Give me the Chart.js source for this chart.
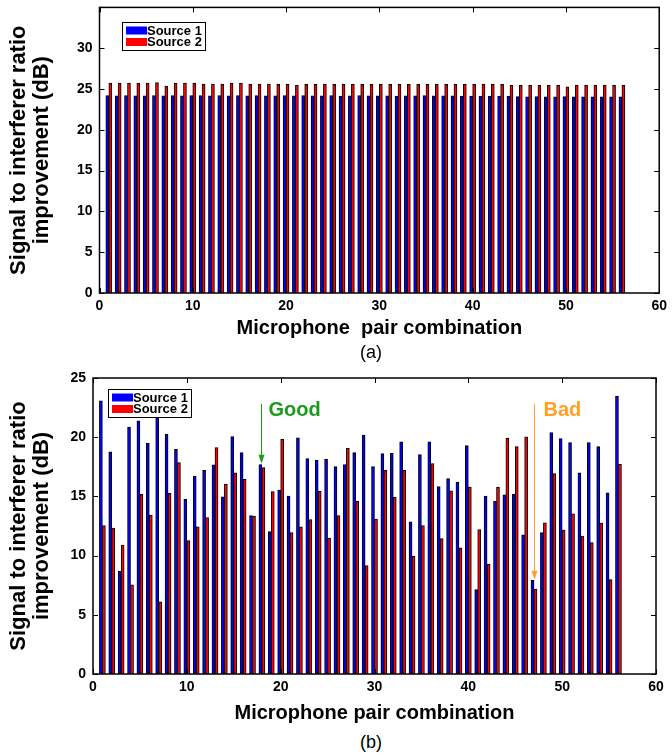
<!DOCTYPE html>
<html>
<head>
<meta charset="utf-8">
<script src="https://cdn.jsdelivr.net/npm/chart.js@4.4.1/dist/chart.umd.min.js"></script>
<style>
  body { margin: 0; background: #fff; }
  #wrap { position: relative; width: 672px; height: 756px; overflow: hidden; }
  canvas { position: absolute; left: 0; }
  .cap { position: absolute; left: 331px; width: 80px; text-align: center;
         font: 18px "Liberation Sans", Arial, sans-serif; line-height: 20px; color: #000; }
</style>
</head>
<body>
<div id="wrap">
  <canvas id="chartA" width="672" height="353" style="top:-8px"></canvas>
  <div class="cap" style="top:342px">(a)</div>
  <canvas id="chartB" width="672" height="370" style="top:360px"></canvas>
  <div class="cap" style="top:732px">(b)</div>
</div>
<script>
const pairIndex = [1, 2, 3, 4, 5, 6, 7, 8, 9, 10, 11, 12, 13, 14, 15, 16, 17, 18, 19, 20,
  21, 22, 23, 24, 25, 26, 27, 28, 29, 30, 31, 32, 33, 34, 35, 36, 37, 38, 39, 40,
  41, 42, 43, 44, 45, 46, 47, 48, 49, 50, 51, 52, 53, 54, 55, 56];

// panel (a)
const topSource1 = [24.18, 24.16, 24.18, 24.17, 24.15, 24.18, 24.16, 24.18, 24.17, 24.18,
  24.18, 24.17, 24.18, 24.16, 24.18, 24.17, 24.18, 24.16, 24.15, 24.18,
  24.16, 24.18, 24.15, 24.17, 24.18, 24.14, 24.17, 24.18, 24.15, 24.16,
  24.17, 24.14, 24.16, 24.15, 24.18, 24.16, 24.15, 24.17, 24.14, 24.14,
  24.13, 24.14, 24.12, 24.13, 24.06, 24.05, 24.06, 24.05, 24.04, 24.06,
  24.05, 24.04, 24.05, 24.03, 24.05, 24.04];
const topSource2 = [25.74, 25.74, 25.74, 25.74, 25.74, 25.8, 25.37, 25.74, 25.74, 25.74,
  25.61, 25.61, 25.61, 25.74, 25.74, 25.61, 25.61, 25.61, 25.57, 25.57,
  25.45, 25.57, 25.57, 25.57, 25.57, 25.57, 25.57, 25.57, 25.57, 25.57,
  25.57, 25.57, 25.57, 25.57, 25.57, 25.57, 25.57, 25.57, 25.57, 25.57,
  25.61, 25.57, 25.57, 25.45, 25.45, 25.45, 25.45, 25.45, 25.45, 25.28,
  25.45, 25.45, 25.45, 25.45, 25.45, 25.45];

// panel (b)
const bottomSource1 = [23.08, 18.76, 8.67, 20.85, 21.38, 19.49, 21.64, 20.25, 18.98, 14.75,
  16.72, 17.2, 17.66, 14.97, 20.06, 18.7, 13.39, 17.68, 12.03, 15.54,
  15.03, 19.94, 18.19, 18.05, 18.14, 17.51, 17.68, 18.7, 20.17, 17.51,
  18.62, 18.64, 19.6, 12.85, 18.53, 19.6, 15.82, 16.5, 16.21, 19.29,
  7.12, 15.03, 14.58, 15.14, 15.2, 11.75, 7.91, 11.95, 20.4, 19.89,
  19.55, 17.0, 19.55, 19.21, 15.31, 23.45];
const bottomSource2 = [12.54, 12.32, 10.88, 7.54, 15.17, 13.42, 6.1, 15.25, 17.85, 11.27,
  12.43, 13.22, 19.12, 16.05, 17.0, 16.44, 13.33, 17.43, 15.4, 19.83,
  11.95, 12.43, 13.05, 15.42, 11.47, 13.39, 19.07, 14.58, 9.15, 13.08,
  17.2, 14.92, 17.2, 9.94, 12.54, 17.77, 11.44, 15.48, 10.65, 15.79,
  12.2, 9.29, 15.79, 19.92, 19.21, 20.03, 7.18, 12.77, 16.92, 12.15,
  13.53, 11.64, 11.1, 12.74, 7.97, 17.71];

const seriesNames = ['Source 1', 'Source 2'];
const seriesColors = ['#0000ff', '#ff0000'];
const yTitle = ['Signal to interferer ratio', 'improvement (dB)'];

const FONT = '"Liberation Sans", Arial, sans-serif';

const framePlugin = {
  id: 'frame',
  afterDraw(chart) {
    const { ctx, chartArea: a, scales } = chart;
    ctx.save();
    ctx.strokeStyle = '#000';
    ctx.lineWidth = 1;
    const tl = 5;
    ctx.beginPath();
    scales.x.ticks.forEach(t => {
      const px = Math.round(scales.x.getPixelForValue(t.value)) + 0.5;
      ctx.moveTo(px, a.top); ctx.lineTo(px, a.top + tl);
      ctx.moveTo(px, a.bottom); ctx.lineTo(px, a.bottom - tl);
    });
    scales.y.ticks.forEach(t => {
      const py = Math.round(scales.y.getPixelForValue(t.value)) + 0.5;
      ctx.moveTo(a.left, py); ctx.lineTo(a.left + tl, py);
      ctx.moveTo(a.right, py); ctx.lineTo(a.right - tl, py);
    });
    ctx.stroke();
    ctx.lineWidth = 1.5;
    ctx.strokeRect(a.left, a.top, a.right - a.left, a.bottom - a.top);
    ctx.restore();
  }
};

const boxLegend = {
  id: 'boxLegend',
  afterDraw(chart, args, opts) {
    const { ctx, chartArea: a } = chart;
    const x = Math.round(a.left + opts.dx), y = Math.round(a.top + opts.dy);
    ctx.save();
    ctx.fillStyle = '#fff';
    ctx.fillRect(x, y, 83, 28);
    ctx.strokeStyle = '#000';
    ctx.lineWidth = 1;
    ctx.strokeRect(x + 0.5, y + 0.5, 83, 28);
    ctx.font = 'bold 13px ' + FONT;
    ctx.textBaseline = 'middle';
    seriesNames.forEach((name, i) => {
      ctx.fillStyle = seriesColors[i];
      ctx.fillRect(x + 4, y + 4.5 + i * 11.5, 21, 8);
      ctx.fillStyle = '#000';
      ctx.fillText(name, x + 25, y + 9 + i * 11.5);
    });
    ctx.restore();
  }
};

const arrowNotes = {
  id: 'arrowNotes',
  afterDraw(chart, args, opts) {
    if (!opts.items) return;
    const { ctx, scales } = chart;
    ctx.save();
    opts.items.forEach(n => {
      const px = Math.round(scales.x.getPixelForValue(n.x)) + 0.5;
      const y0 = scales.y.getPixelForValue(n.from);
      const y1 = scales.y.getPixelForValue(n.to);
      ctx.strokeStyle = n.color;
      ctx.fillStyle = n.color;
      ctx.lineWidth = 1;
      ctx.beginPath();
      ctx.moveTo(px, y0); ctx.lineTo(px, y1 - 8);
      ctx.stroke();
      ctx.beginPath();
      ctx.moveTo(px - 3, y1 - 9); ctx.lineTo(px + 3, y1 - 9); ctx.lineTo(px, y1);
      ctx.closePath();
      ctx.fill();
      ctx.font = 'bold 20px ' + FONT;
      ctx.textBaseline = 'alphabetic';
      ctx.fillText(n.text, px + n.tx, y0 + 12);
    });
    ctx.restore();
  }
};

function makeChart(id, s1, s2, cfg) {
  const tickFont = { family: FONT, size: 14, weight: 'bold' };
  return new Chart(document.getElementById(id), {
    type: 'bar',
    data: {
      datasets: [
        { label: seriesNames[0], data: pairIndex.map((p, i) => ({ x: p, y: s1[i] })),
          backgroundColor: seriesColors[0], borderColor: '#000', borderWidth: 1, barThickness: 3 },
        { label: seriesNames[1], data: pairIndex.map((p, i) => ({ x: p, y: s2[i] })),
          backgroundColor: seriesColors[1], borderColor: '#000', borderWidth: 1, barThickness: 3 }
      ]
    },
    options: {
      responsive: false,
      animation: false,
      layout: { padding: { top: cfg.padTop, right: cfg.padRight, left: 0, bottom: 0 } },
      plugins: {
        legend: { display: false },
        tooltip: { enabled: false },
        boxLegend: cfg.legend,
        arrowNotes: { items: cfg.notes }
      },
      scales: {
        x: {
          type: 'linear', min: 0, max: 60, offset: false,
          grid: { display: false, drawTicks: false, offset: false },
          border: { display: false },
          ticks: { stepSize: 10, color: '#000', font: tickFont, padding: 5, maxRotation: 0 },
          title: { display: true, text: cfg.xTitle, color: '#000',
                   font: { family: FONT, size: 20, weight: 'bold' }, padding: { top: 0, bottom: 5 } },
          afterFit: s => { s.height = cfg.xHeight; }
        },
        y: {
          min: 0, max: cfg.yMax,
          grid: { display: false, drawTicks: false },
          border: { display: false },
          ticks: { stepSize: 5, color: '#000', font: tickFont, padding: 7,
                   callback: v => (v > cfg.yLabelMax ? '' : v) },
          title: { display: true, text: yTitle, color: '#000',
                   font: { family: FONT, size: 22, weight: 'bold', lineHeight: 1.05 }, padding: { top: 7, bottom: 0 } },
          afterFit: s => { s.width = cfg.yWidth; }
        }
      }
    },
    plugins: [framePlugin, boxLegend, arrowNotes]
  });
}

makeChart('chartA', topSource1, topSource2, {
  padTop: 0, padRight: 12, xHeight: 52, yWidth: 99.5, yMax: 35, yLabelMax: 30,
  xTitle: 'Microphone  pair combination',
  legend: { dx: 22.5, dy: 15 }
});

makeChart('chartB', bottomSource1, bottomSource2, {
  padTop: 18, padRight: 16, xHeight: 56, yWidth: 93, yMax: 25, yLabelMax: 25,
  xTitle: 'Microphone pair combination',
  legend: { dx: 14.5, dy: 10.5 },
  notes: [
    { x: 17.93, from: 22.8, to: 17.75, text: 'Good', color: '#1c9a1c', tx: 7 },
    { x: 47.0, from: 22.8, to: 7.95, text: 'Bad', color: '#ffa126', tx: 9 }
  ]
});
</script>
</body>
</html>
